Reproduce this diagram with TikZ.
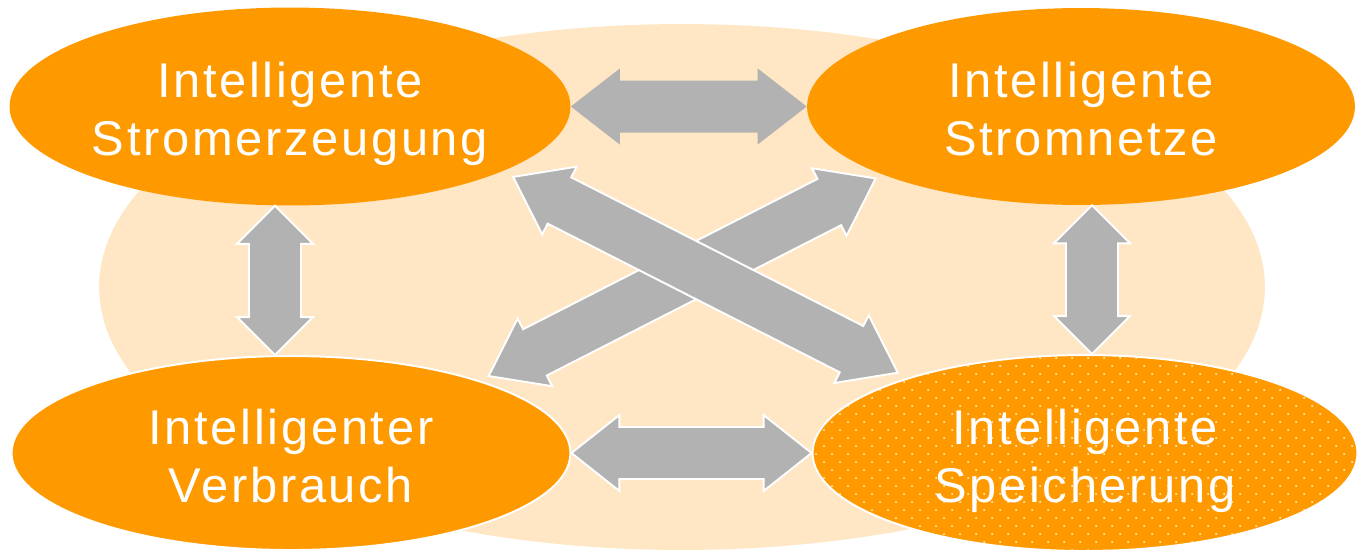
\documentclass[tikz,border=0pt]{standalone}
\usepackage{fontspec}
\setmainfont{Liberation Sans}[LetterSpace=5.5]
\usepackage{tikz}
\usetikzlibrary{shapes.geometric,calc}
\definecolor{smartorange}{RGB}{255,153,0}
\definecolor{smartpeach}{RGB}{255,230,196}
\definecolor{smartgray}{RGB}{178,178,178}
\tikzstyle{blob} = [ellipse, fill=smartorange, inner sep=0pt]
\tikzstyle{rim} = [draw=white, line width=1.1pt]
\tikzstyle{txt} = [text=white, align=center, font={\fontsize{27.8}{33}\selectfont}, anchor=base, yshift=-0.98cm]
\tikzstyle{link} = [fill=smartgray]
\tikzstyle{linkrim} = [link, draw=white, line width=1.1pt]

\newcommand{\headw}{0.76cm}
\newcommand{\shaftw}{0.52cm}
% block arrow with two heads: style, from, to, head length
\newcommand{\dblarrow}[4]{
  \coordinate (h1) at ($(#2)!#4!(#3)$);
  \coordinate (h2) at ($(#3)!#4!(#2)$);
  \path[#1] (#2) -- ($(h1)!\headw!90:(#3)$) -- ($(h1)!\shaftw!90:(#3)$)
    -- ($(h2)!\shaftw!-90:(#2)$) -- ($(h2)!\headw!-90:(#2)$) -- (#3)
    -- ($(h2)!\headw!90:(#2)$) -- ($(h2)!\shaftw!90:(#2)$)
    -- ($(h1)!\shaftw!-90:(#3)$) -- ($(h1)!\headw!-90:(#3)$) -- cycle;
}

\begin{document}
\begin{tikzpicture}[x=0.02cm,y=-0.02cm]
    \useasboundingbox (0,0) rectangle (1358,549);
    \clip (0,0) rectangle (1358,549);
    \fill[smartpeach] (682,287) ellipse [x radius=11.66cm, y radius=5.26cm];

    \node[blob,minimum width=11.22cm,minimum height=3.96cm](gen) at (290,106.5){};
    \node[blob,minimum width=10.96cm,minimum height=3.94cm](grid) at (1081,106.5){};
    \node[blob,rim,minimum width=11.18cm,minimum height=3.88cm](use) at (291,453){};
    \node[blob,rim,minimum width=10.9cm,minimum height=3.92cm](store) at (1085,453){};
    % dotted fill
    \begin{scope}
      \clip (store.center) ellipse [x radius=5.43cm, y radius=1.94cm];
      \foreach \j in {0,...,25}
        \foreach \i in {0,...,34}
          \fill[white!90!smartorange] ({816+16*\i+8*mod(\j,2)},{358+8*\j}) circle (0.02cm);
    \end{scope}
    \node[txt](gentxt) at (gen.center){Intelligente\\Stromerzeugung};
    \node[txt](gridtxt) at (grid.center){Intelligente\\Stromnetze};
    \node[txt](usetxt) at (use.center){Intelligenter\\Verbrauch};
    \node[txt](storetxt) at (store.center){Intelligente\\Speicherung};

    \coordinate (v1) at ([xshift=-0.3cm]gen.south);
    \coordinate (v2) at ([xshift=-0.32cm]use.north);
    \coordinate (v3) at ([xshift=0.22cm]grid.south);
    \coordinate (v4) at ([xshift=0.14cm]store.north);
    \coordinate (d1) at ($(gen.343)!0.24cm!(store.157)$);
    \coordinate (d2) at ($(store.157)!0.22cm!(gen.343)$);
    \coordinate (d3) at ($(use.21)!0.2cm!(grid.199)$);
    \coordinate (d4) at ($(grid.199)!0.16cm!(use.21)$);

    \dblarrow{link}{gen.east}{grid.west}{0.98cm}
    \dblarrow{linkrim}{use.east}{store.west}{0.96cm}
    \dblarrow{linkrim}{v1}{v2}{0.76cm}
    \dblarrow{linkrim}{v3}{v4}{0.76cm}
    \dblarrow{linkrim}{d3}{d4}{1.04cm}
    \dblarrow{linkrim}{d1}{d2}{1.04cm}
\end{tikzpicture}
\end{document}
